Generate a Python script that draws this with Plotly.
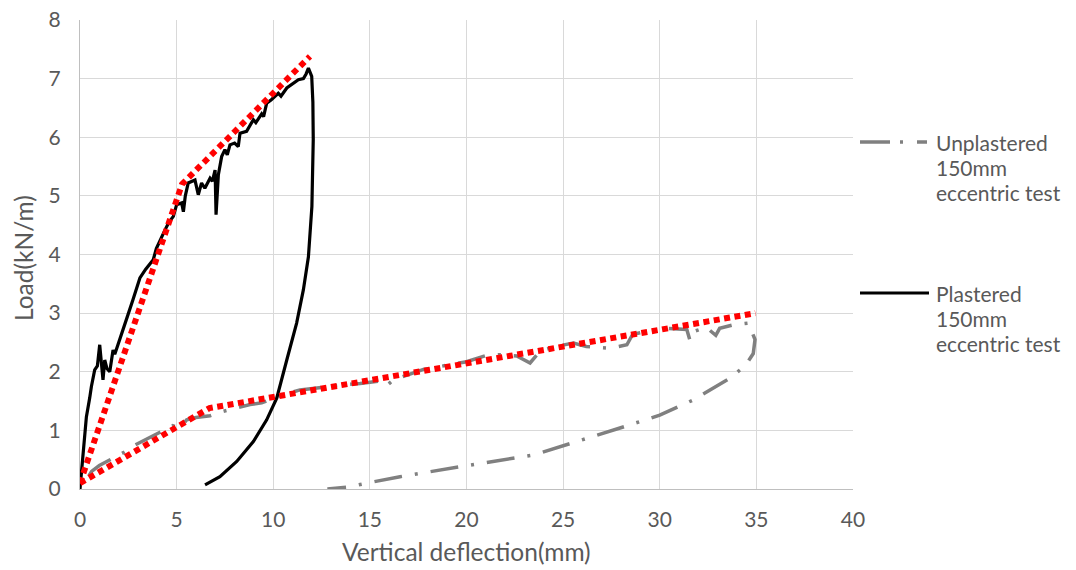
import plotly.graph_objects as go

# ---- data ----
plastered_x = [0, 0.16, 0.33, 0.5, 0.59, 0.76, 0.9, 1.02, 1.19, 1.28, 1.4, 1.54, 1.71, 1.8,
               2.05, 2.22, 2.48, 2.74, 2.95, 3.1, 3.4, 3.79, 3.95, 4.14, 4.4, 4.6, 4.83, 5.0,
               5.26, 5.35, 5.45, 5.6, 5.95, 6.12, 6.29, 6.46, 6.73, 6.85, 6.99, 7.04, 7.16,
               7.33, 7.5, 7.62, 7.76, 8.0, 8.19, 8.28, 8.62, 8.97, 9.1, 9.4, 9.5, 9.66, 9.9,
               10.26, 10.4, 10.7, 10.95, 11.3, 11.56, 11.7, 11.82, 11.99, 12.05, 12.07, 12.0,
               11.82, 11.56, 11.21, 10.7, 10.18, 9.66, 8.97, 8.11, 7.24, 6.47]
plastered_y = [0, 0.67, 1.23, 1.55, 1.75, 2.03, 2.1, 2.46, 1.86, 2.2, 2.05, 2.0, 2.37, 2.3,
               2.54, 2.68, 2.97, 3.23, 3.45, 3.6, 3.75, 3.91, 4.1, 4.25, 4.42, 4.55, 4.65, 4.85,
               4.88, 4.73, 5.0, 5.22, 5.27, 5.02, 5.22, 5.13, 5.30, 5.25, 5.44, 4.68, 5.36,
               5.67, 5.79, 5.7, 5.87, 5.9, 5.84, 6.07, 6.1, 6.3, 6.25, 6.4, 6.35, 6.58, 6.64,
               6.75, 6.7, 6.84, 6.9, 6.98, 7.0, 7.08, 7.18, 7.04, 6.6, 5.96, 4.82,
               3.96, 3.4, 2.83, 2.2, 1.55, 1.18, 0.81, 0.47, 0.21, 0.07]

unplastered_x = [0.45, 0.6, 1.0, 1.72, 2.3, 2.85, 3.5, 4.05, 4.8, 5.17, 5.52, 6.0, 6.73, 7.24,
                 8.02, 8.8, 9.4, 10.26, 11.38, 12.5, 13.45, 14.5, 15.5, 15.87, 16.2, 17.0,
                 17.77, 19.15, 20.0, 21.05, 21.7, 22.6, 23.29, 23.8, 24.6, 25.53, 26.2, 27.4,
                 28.3, 28.6, 29.5, 30.36, 31.4, 31.56, 31.7, 32.4, 32.9, 33.1, 33.8, 34.58,
                 34.84, 34.93, 34.84, 34.5, 34.15, 33.64, 31.74, 30.0, 27.94, 25.7, 23.46,
                 19.66, 16.56, 14.84, 13.8, 12.8]
unplastered_y = [0.22, 0.30, 0.40, 0.52, 0.63, 0.75, 0.86, 0.95, 1.08, 1.04, 1.18, 1.22, 1.25,
                 1.31, 1.38, 1.44, 1.47, 1.58, 1.69, 1.74, 1.77, 1.80, 1.84, 1.76, 1.86, 1.95,
                 2.04, 2.12, 2.17, 2.28, 2.29, 2.27, 2.15, 2.35, 2.43, 2.49, 2.43, 2.40,
                 2.46, 2.64, 2.70, 2.74, 2.72, 2.54, 2.68, 2.76, 2.62, 2.74, 2.80, 2.83,
                 2.62, 2.55, 2.31, 2.14, 2.03, 1.89, 1.52, 1.26, 1.04, 0.81, 0.58,
                 0.38, 0.21, 0.10, 0.03, 0.0]

trend_plastered_x = [0, 5.28, 11.9]
trend_plastered_y = [0.1, 5.2, 7.38]
trend_unplastered_x = [0, 6.7, 34.95]
trend_unplastered_y = [0.1, 1.38, 3.0]

legend_labels = [["Unplastered", "150mm", "eccentric test"],
                 ["Plastered", "150mm", "eccentric test"]]

x_title = "Vertical deflection(mm)"
y_title = "Load(kN/m)"

# ---- styling ----
FONT = "Lato"
TXT = "#595959"
GRAY = "#808080"
GRAY_DASH = "28px,13px,3px,13px"
RED_DASH = "6px,4.5px"

fig = go.Figure()
fig.add_trace(go.Scatter(x=unplastered_x, y=unplastered_y, mode="lines",
                         line=dict(color=GRAY, width=3.5, dash=GRAY_DASH),
                         name="Unplastered 150mm eccentric test", showlegend=False))
fig.add_trace(go.Scatter(x=plastered_x, y=plastered_y, mode="lines",
                         line=dict(color="black", width=3.2),
                         name="Plastered 150mm eccentric test", showlegend=False))
fig.add_trace(go.Scatter(x=trend_unplastered_x, y=trend_unplastered_y, mode="lines",
                         line=dict(color="#ff0000", width=6, dash=RED_DASH),
                         showlegend=False, hoverinfo="skip"))
fig.add_trace(go.Scatter(x=trend_plastered_x, y=trend_plastered_y, mode="lines",
                         line=dict(color="#ff0000", width=6, dash=RED_DASH),
                         showlegend=False, hoverinfo="skip"))

L, R, T, B = 80, 223, 20, 81
W, H = 1076, 570
pw, ph = W - L - R, H - T - B

def px(xp):
    return (xp - L) / pw

def py(yp):
    return (H - B - yp) / ph

# manual legend
shapes = [
    dict(type="line", xref="paper", yref="paper", x0=px(860), x1=px(929), y0=py(142), y1=py(142),
         line=dict(color=GRAY, width=3.5, dash="30px,10px,3px,14px,10px")),
    dict(type="line", xref="paper", yref="paper", x0=px(860), x1=px(929), y0=py(293), y1=py(293),
         line=dict(color="black", width=3.2)),
]
annotations = []
for labels, y0 in zip(legend_labels, [142, 293]):
    for i, t in enumerate(labels):
        annotations.append(dict(text=t, xref="paper", yref="paper", x=px(934), y=py(y0 + i * 25.4),
                                xanchor="left", yanchor="middle", showarrow=False,
                                font=dict(family=FONT, size=21, color=TXT)))
annotations.append(dict(text=x_title, xref="paper", yref="paper", x=0.5, y=py(551),
                        xanchor="center", yanchor="middle", showarrow=False,
                        font=dict(family=FONT, size=24.5, color=TXT)))
annotations.append(dict(text=y_title, xref="paper", yref="paper", x=px(23), y=py(258),
                        xanchor="center", yanchor="middle", showarrow=False, textangle=-90,
                        font=dict(family=FONT, size=24.5, color=TXT)))

fig.update_layout(
    width=W, height=H,
    margin=dict(l=L, r=R, t=T, b=B, autoexpand=False),
    paper_bgcolor="white", plot_bgcolor="white",
    showlegend=False,
    shapes=shapes, annotations=annotations,
    font=dict(family=FONT, color=TXT),
)
fig.update_xaxes(range=[0, 40], dtick=5, tick0=0, showgrid=True, gridcolor="#d9d9d9", gridwidth=1.3,
                 showline=True, linecolor="#bfbfbf", linewidth=1.3, zeroline=False,
                 ticks="", ticklabelstandoff=12,
                 tickfont=dict(family=FONT, size=21, color=TXT))
fig.update_yaxes(range=[0, 8], dtick=1, tick0=0, showgrid=True, gridcolor="#d9d9d9", gridwidth=1.3,
                 showline=True, linecolor="#bfbfbf", linewidth=1.3, zeroline=False,
                 ticks="", ticklabelstandoff=14,
                 tickfont=dict(family=FONT, size=21, color=TXT))

fig.write_html("out.html", config={"displayModeBar": False},
               post_script="document.body.style.margin='0px';")
